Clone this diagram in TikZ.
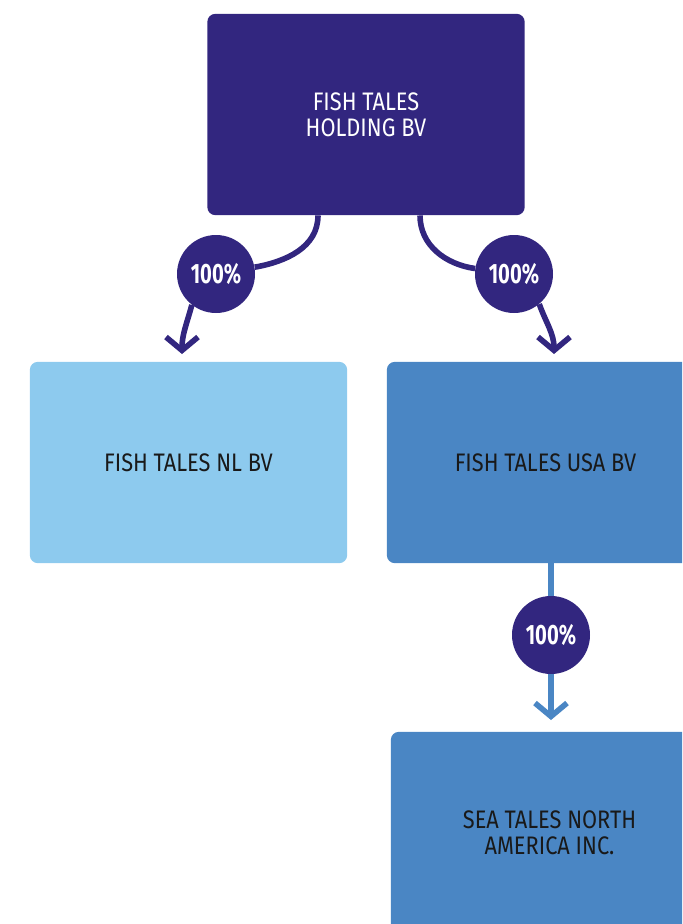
\documentclass[tikz,border=0pt]{standalone}
\usepackage{fontspec}
\newfontfamily\tagfont[FakeStretch=0.86]{Fira Sans}
\newfontfamily\pctfont[FakeStretch=0.72]{Fira Sans}
\usepackage{tikz}
\usetikzlibrary{positioning,arrows.meta}
\definecolor{holdc}{HTML}{32267F}
\definecolor{nlc}{HTML}{8DCAEE}
\definecolor{usac}{HTML}{4A86C4}

\begin{document}
\begin{tikzpicture}
                [x=0.75pt,y=0.75pt,
                co/.style={rectangle,rounded corners=6pt,minimum width=238pt,minimum height=151pt,
                  align=center,text=black!90,font=\tagfont\fontsize{19}{19.5}\selectfont},
                pct/.style={circle,fill=holdc,minimum size=58.5pt,inner sep=0pt,text=white,
                  font=\pctfont\bfseries\fontsize{21}{21}\selectfont},
                link/.style={line width=4.2pt,holdc},
                blink/.style={line width=4.2pt,usac},
                tip/.style={-{Straight Barb[length=10pt,width=24pt]}}]
                \clip (0,0) rectangle (682,-924);
                \node[co,fill=holdc,text=white] (top) at (366,-114.5){FISH TALES\\HOLDING BV};
                \node[co,fill=nlc] (nl) at (188.5,-462.5){FISH TALES NL BV};
                \node[co,fill=usac] (usa) at (545.5,-462.5){FISH TALES USA BV};
                \node[co,fill=usac] (sea) at (549.5,-832.5){SEA TALES NORTH\\AMERICA INC.};
                \node[pct] (pa) at (216,-274){100\%};
                \node[pct] (pb) at (514,-274){100\%};
                \node[pct] (pc) at (551,-635){100\%};
                \coordinate (ta) at (182,-354);
                \coordinate (tb) at (554,-354);
                \coordinate (tc) at (551,-720);
                % owner to its shares
                \draw[link] ([xshift=-36pt]top.south) to[out=-90,in=10] (pa);
                \draw[link,tip] (pa.-128) to[out=-105,in=90] (ta);
                \draw[link] ([xshift=40.5pt]top.south) to[out=-90,in=172] (pb);
                \draw[link,tip] (pb.-50) to[out=-70,in=90] (tb);
                \draw[blink] (pc |- usa.south) -- (pc);
                \draw[blink,tip] (pc) -- (tc);
            \end{tikzpicture}
\end{document}
